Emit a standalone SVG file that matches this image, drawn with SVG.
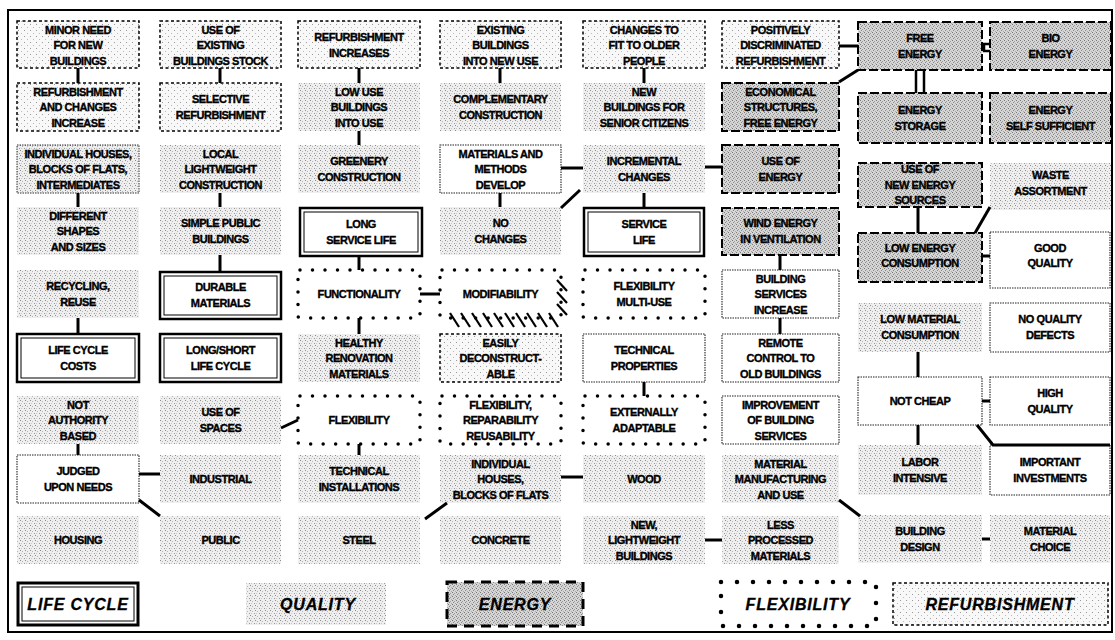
<svg xmlns="http://www.w3.org/2000/svg" width="1115" height="640" viewBox="0 0 1115 640">
<defs>
<pattern id="pq" width="5" height="5" patternUnits="userSpaceOnUse"><rect width="5" height="5" fill="#efefef"/><rect x="0" y="0" width="1" height="1" fill="#8a8a8a"/><rect x="2" y="1" width="1" height="1" fill="#b5b5b5"/><rect x="4" y="3" width="1" height="1" fill="#9a9a9a"/><rect x="1" y="3" width="1" height="1" fill="#c8c8c8"/></pattern>
<pattern id="pe" width="4" height="4" patternUnits="userSpaceOnUse"><rect width="4" height="4" fill="#d6d6d6"/><rect x="0" y="0" width="1" height="1" fill="#777"/><rect x="2" y="1" width="1" height="1" fill="#999"/><rect x="1" y="2" width="1" height="1" fill="#888"/><rect x="3" y="3" width="1" height="1" fill="#aaa"/></pattern>
<pattern id="pr" width="6" height="6" patternUnits="userSpaceOnUse"><rect width="6" height="6" fill="#f8f8f8"/><rect x="0" y="0" width="1" height="1" fill="#999"/><rect x="3" y="3" width="1" height="1" fill="#bbb"/></pattern>
</defs>
<style>
.t{font-family:"Liberation Sans",Arial,sans-serif;font-weight:bold;font-size:11px;letter-spacing:-0.45px;text-anchor:middle;fill:#000;stroke:#000;stroke-width:0.35px}
.lg{font-family:"Liberation Sans",Arial,sans-serif;font-weight:bold;font-style:italic;font-size:16px;letter-spacing:0.8px;text-anchor:middle;fill:#000;stroke:#000;stroke-width:0.3px}
.q{fill:url(#pq)}
.qb{fill:url(#pq);stroke:#333;stroke-width:1;stroke-dasharray:1.5 1}
.rf{fill:url(#pr);stroke:#000;stroke-width:1.5;stroke-dasharray:3 2.5}
.en{fill:url(#pe);stroke:#000;stroke-width:2;stroke-dasharray:9 3}
.lo{fill:#fff;stroke:#000;stroke-width:2.5}
.li{fill:none;stroke:#000;stroke-width:1}
.fx{fill:#fff;stroke:#000;stroke-width:3.5;stroke-dasharray:0 12.5;stroke-linecap:round}
.nt{fill:#fff;stroke:#222;stroke-width:1.1;stroke-dasharray:1.5 1}
.c{stroke:#000;stroke-width:3;fill:none}
.h{stroke:#000;stroke-width:2.2}
</style>
<rect x="8" y="10" width="1104" height="622" fill="#fff" stroke="#000" stroke-width="2"/>

<!-- Column 1 -->
<g id="n-minor-need"><rect class="rf" x="17" y="21" width="122" height="47"/><text class="t"><tspan x="78" y="33.5">MINOR NEED</tspan><tspan x="78" y="49">FOR NEW</tspan><tspan x="78" y="64.5">BUILDINGS</tspan></text></g>
<g id="n-refurb-changes"><rect class="rf" x="17" y="83" width="122" height="48"/><text class="t"><tspan x="78" y="95.5">REFURBISHMENT</tspan><tspan x="78" y="111">AND CHANGES</tspan><tspan x="78" y="126.5">INCREASE</tspan></text></g>
<g id="n-individual-houses"><rect class="qb" x="17" y="145" width="122" height="48"/><text class="t"><tspan x="78" y="157.5">INDIVIDUAL HOUSES,</tspan><tspan x="78" y="173">BLOCKS OF FLATS,</tspan><tspan x="78" y="188.5">INTERMEDIATES</tspan></text></g>
<g id="n-different-shapes"><rect class="q" x="17" y="207" width="122" height="48"/><text class="t"><tspan x="78" y="219.5">DIFFERENT</tspan><tspan x="78" y="235">SHAPES</tspan><tspan x="78" y="250.5">AND SIZES</tspan></text></g>
<g id="n-recycling"><rect class="q" x="17" y="270" width="122" height="48"/><text class="t"><tspan x="78" y="290">RECYCLING,</tspan><tspan x="78" y="306">REUSE</tspan></text></g>
<g id="n-life-cycle-costs"><rect class="lo" x="17" y="334" width="122" height="48"/><rect class="li" x="21" y="338" width="114" height="40"/><text class="t"><tspan x="78" y="354">LIFE CYCLE</tspan><tspan x="78" y="370">COSTS</tspan></text></g>
<g id="n-not-authority"><rect class="q" x="17" y="396" width="122" height="48"/><text class="t"><tspan x="78" y="408.5">NOT</tspan><tspan x="78" y="424">AUTHORITY</tspan><tspan x="78" y="439.5">BASED</tspan></text></g>
<g id="n-judged"><rect class="nt" x="17" y="455" width="122" height="48"/><text class="t"><tspan x="78" y="475">JUDGED</tspan><tspan x="78" y="491">UPON NEEDS</tspan></text></g>
<g id="n-housing"><rect class="q" x="17" y="516" width="122" height="48"/><text class="t"><tspan x="78" y="544">HOUSING</tspan></text></g>

<!-- Column 2 -->
<g id="n-use-existing"><rect class="rf" x="160" y="21" width="121" height="47"/><text class="t"><tspan x="220.5" y="33.5">USE OF</tspan><tspan x="220.5" y="49">EXISTING</tspan><tspan x="220.5" y="64.5">BUILDINGS STOCK</tspan></text></g>
<g id="n-selective-refurb"><rect class="rf" x="160" y="83" width="121" height="48"/><text class="t"><tspan x="220.5" y="103">SELECTIVE</tspan><tspan x="220.5" y="119">REFURBISHMENT</tspan></text></g>
<g id="n-local-lightweight"><rect class="q" x="160" y="145" width="121" height="48"/><text class="t"><tspan x="220.5" y="157.5">LOCAL</tspan><tspan x="220.5" y="173">LIGHTWEIGHT</tspan><tspan x="220.5" y="188.5">CONSTRUCTION</tspan></text></g>
<g id="n-simple-public"><rect class="q" x="160" y="207" width="121" height="48"/><text class="t"><tspan x="220.5" y="227">SIMPLE PUBLIC</tspan><tspan x="220.5" y="243">BUILDINGS</tspan></text></g>
<g id="n-durable"><rect class="lo" x="160" y="272" width="121" height="47"/><rect class="li" x="164" y="276" width="113" height="39"/><text class="t"><tspan x="220.5" y="291">DURABLE</tspan><tspan x="220.5" y="307">MATERIALS</tspan></text></g>
<g id="n-long-short"><rect class="lo" x="160" y="334" width="121" height="48"/><rect class="li" x="164" y="338" width="113" height="40"/><text class="t"><tspan x="220.5" y="354">LONG/SHORT</tspan><tspan x="220.5" y="370">LIFE CYCLE</tspan></text></g>
<g id="n-use-spaces"><rect class="q" x="160" y="396" width="121" height="48"/><text class="t"><tspan x="220.5" y="416">USE OF</tspan><tspan x="220.5" y="432">SPACES</tspan></text></g>
<g id="n-industrial"><rect class="q" x="160" y="455" width="121" height="48"/><text class="t"><tspan x="220.5" y="483">INDUSTRIAL</tspan></text></g>
<g id="n-public"><rect class="q" x="160" y="516" width="121" height="48"/><text class="t"><tspan x="220.5" y="544">PUBLIC</tspan></text></g>

<!-- Column 3 -->
<g id="n-refurb-increases"><rect class="rf" x="298" y="21" width="122" height="47"/><text class="t"><tspan x="359" y="41">REFURBISHMENT</tspan><tspan x="359" y="57">INCREASES</tspan></text></g>
<g id="n-low-use"><rect class="q" x="298" y="83" width="122" height="48"/><text class="t"><tspan x="359" y="95.5">LOW USE</tspan><tspan x="359" y="111">BUILDINGS</tspan><tspan x="359" y="126.5">INTO USE</tspan></text></g>
<g id="n-greenery"><rect class="q" x="298" y="145" width="122" height="48"/><text class="t"><tspan x="359" y="165">GREENERY</tspan><tspan x="359" y="181">CONSTRUCTION</tspan></text></g>
<g id="n-long-service"><rect class="lo" x="300" y="208" width="122" height="48"/><rect class="li" x="304" y="212" width="114" height="40"/><text class="t"><tspan x="361" y="228">LONG</tspan><tspan x="361" y="244">SERVICE LIFE</tspan></text></g>
<g id="n-functionality"><rect class="fx" x="298" y="270" width="122" height="48" rx="2"/><text class="t"><tspan x="359" y="298">FUNCTIONALITY</tspan></text></g>
<g id="n-healthy"><rect class="q" x="298" y="334" width="122" height="48"/><text class="t"><tspan x="359" y="346.5">HEALTHY</tspan><tspan x="359" y="362">RENOVATION</tspan><tspan x="359" y="377.5">MATERIALS</tspan></text></g>
<g id="n-flexibility"><rect class="fx" x="298" y="396" width="122" height="48" rx="2"/><text class="t"><tspan x="359" y="424">FLEXIBILITY</tspan></text></g>
<g id="n-tech-install"><rect class="q" x="298" y="455" width="122" height="48"/><text class="t"><tspan x="359" y="475">TECHNICAL</tspan><tspan x="359" y="491">INSTALLATIONS</tspan></text></g>
<g id="n-steel"><rect class="q" x="298" y="516" width="122" height="48"/><text class="t"><tspan x="359" y="544">STEEL</tspan></text></g>

<!-- Column 4 -->
<g id="n-existing-new-use"><rect class="rf" x="440" y="21" width="121" height="47"/><text class="t"><tspan x="500.5" y="33.5">EXISTING</tspan><tspan x="500.5" y="49">BUILDINGS</tspan><tspan x="500.5" y="64.5">INTO NEW USE</tspan></text></g>
<g id="n-complementary"><rect class="q" x="440" y="83" width="121" height="48"/><text class="t"><tspan x="500.5" y="103">COMPLEMENTARY</tspan><tspan x="500.5" y="119">CONSTRUCTION</tspan></text></g>
<g id="n-materials-methods"><rect class="nt" x="440" y="145" width="121" height="48"/><text class="t"><tspan x="500.5" y="157.5">MATERIALS AND</tspan><tspan x="500.5" y="173">METHODS</tspan><tspan x="500.5" y="188.5">DEVELOP</tspan></text></g>
<g id="n-no-changes"><rect class="q" x="440" y="207" width="121" height="48"/><text class="t"><tspan x="500.5" y="227">NO</tspan><tspan x="500.5" y="243">CHANGES</tspan></text></g>
<g id="n-modifiability"><rect class="fx" x="440" y="270" width="121" height="48" rx="2"/><text class="t"><tspan x="500.5" y="298">MODIFIABILITY</tspan></text>
<g class="h"><line x1="450" y1="313" x2="459" y2="327"/><line x1="461" y1="313" x2="470" y2="327"/><line x1="472" y1="313" x2="481" y2="327"/><line x1="483" y1="313" x2="492" y2="327"/><line x1="494" y1="313" x2="503" y2="327"/><line x1="505" y1="313" x2="514" y2="327"/><line x1="516" y1="313" x2="525" y2="327"/><line x1="527" y1="313" x2="536" y2="327"/><line x1="538" y1="313" x2="547" y2="327"/><line x1="549" y1="313" x2="558" y2="327"/><line x1="557" y1="280" x2="567" y2="291"/><line x1="557" y1="292" x2="567" y2="303"/><line x1="557" y1="304" x2="567" y2="315"/></g></g>
<g id="n-easily"><rect class="rf" x="440" y="334" width="121" height="48"/><text class="t"><tspan x="500.5" y="346.5">EASILY</tspan><tspan x="500.5" y="362">DECONSTRUCT-</tspan><tspan x="500.5" y="377.5">ABLE</tspan></text></g>
<g id="n-flex-repar"><rect class="fx" x="440" y="396" width="121" height="48" rx="2"/><text class="t"><tspan x="500.5" y="408.5">FLEXIBILITY,</tspan><tspan x="500.5" y="424">REPARABILITY</tspan><tspan x="500.5" y="439.5">REUSABILITY</tspan></text></g>
<g id="n-individual-blocks"><rect class="q" x="440" y="455" width="121" height="48"/><text class="t"><tspan x="500.5" y="467.5">INDIVIDUAL</tspan><tspan x="500.5" y="483">HOUSES,</tspan><tspan x="500.5" y="498.5">BLOCKS OF FLATS</tspan></text></g>
<g id="n-concrete"><rect class="q" x="440" y="516" width="121" height="48"/><text class="t"><tspan x="500.5" y="544">CONCRETE</tspan></text></g>

<!-- Column 5 -->
<g id="n-changes-older"><rect class="rf" x="583" y="21" width="122" height="47"/><text class="t"><tspan x="644" y="33.5">CHANGES TO</tspan><tspan x="644" y="49">FIT TO OLDER</tspan><tspan x="644" y="64.5">PEOPLE</tspan></text></g>
<g id="n-senior"><rect class="q" x="583" y="83" width="122" height="48"/><text class="t"><tspan x="644" y="95.5">NEW</tspan><tspan x="644" y="111">BUILDINGS FOR</tspan><tspan x="644" y="126.5">SENIOR CITIZENS</tspan></text></g>
<g id="n-incremental"><rect class="q" x="583" y="145" width="122" height="48"/><text class="t"><tspan x="644" y="165">INCREMENTAL</tspan><tspan x="644" y="181">CHANGES</tspan></text></g>
<g id="n-service-life"><rect class="lo" x="584" y="208" width="120" height="48"/><rect class="li" x="588" y="212" width="112" height="40"/><text class="t"><tspan x="644" y="228">SERVICE</tspan><tspan x="644" y="244">LIFE</tspan></text></g>
<g id="n-flex-multi"><rect class="fx" x="583" y="270" width="122" height="48" rx="2"/><text class="t"><tspan x="644" y="290">FLEXIBILITY</tspan><tspan x="644" y="306">MULTI-USE</tspan></text></g>
<g id="n-tech-props"><rect class="nt" x="583" y="334" width="122" height="48"/><text class="t"><tspan x="644" y="354">TECHNICAL</tspan><tspan x="644" y="370">PROPERTIES</tspan></text></g>
<g id="n-externally"><rect class="fx" x="583" y="396" width="122" height="48" rx="2"/><text class="t"><tspan x="644" y="416">EXTERNALLY</tspan><tspan x="644" y="432">ADAPTABLE</tspan></text></g>
<g id="n-wood"><rect class="q" x="583" y="455" width="122" height="48"/><text class="t"><tspan x="644" y="483">WOOD</tspan></text></g>
<g id="n-new-lightweight"><rect class="q" x="583" y="516" width="122" height="48"/><text class="t"><tspan x="644" y="528.5">NEW,</tspan><tspan x="644" y="544">LIGHTWEIGHT</tspan><tspan x="644" y="559.5">BUILDINGS</tspan></text></g>

<!-- Column 6 -->
<g id="n-positively"><rect class="rf" x="722" y="21" width="117" height="47"/><text class="t"><tspan x="780.5" y="33.5">POSITIVELY</tspan><tspan x="780.5" y="49">DISCRIMINATED</tspan><tspan x="780.5" y="64.5">REFURBISHMENT</tspan></text></g>
<g id="n-economical"><rect class="en" x="722" y="83" width="117" height="48"/><text class="t"><tspan x="780.5" y="95.5">ECONOMICAL</tspan><tspan x="780.5" y="111">STRUCTURES,</tspan><tspan x="780.5" y="126.5">FREE ENERGY</tspan></text></g>
<g id="n-use-energy"><rect class="en" x="722" y="145" width="117" height="48"/><text class="t"><tspan x="780.5" y="165">USE OF</tspan><tspan x="780.5" y="181">ENERGY</tspan></text></g>
<g id="n-wind"><rect class="en" x="722" y="208" width="117" height="47"/><text class="t"><tspan x="780.5" y="227">WIND ENERGY</tspan><tspan x="780.5" y="243">IN VENTILATION</tspan></text></g>
<g id="n-building-services"><rect class="nt" x="722" y="270" width="117" height="48"/><text class="t"><tspan x="780.5" y="282.5">BUILDING</tspan><tspan x="780.5" y="298">SERVICES</tspan><tspan x="780.5" y="313.5">INCREASE</tspan></text></g>
<g id="n-remote"><rect class="nt" x="722" y="334" width="117" height="48"/><text class="t"><tspan x="780.5" y="346.5">REMOTE</tspan><tspan x="780.5" y="362">CONTROL TO</tspan><tspan x="780.5" y="377.5">OLD BUILDINGS</tspan></text></g>
<g id="n-improvement"><rect class="nt" x="722" y="396" width="117" height="48"/><text class="t"><tspan x="780.5" y="408.5">IMPROVEMENT</tspan><tspan x="780.5" y="424">OF BUILDING</tspan><tspan x="780.5" y="439.5">SERVICES</tspan></text></g>
<g id="n-material-manuf"><rect class="q" x="722" y="455" width="117" height="48"/><text class="t"><tspan x="780.5" y="467.5">MATERIAL</tspan><tspan x="780.5" y="483">MANUFACTURING</tspan><tspan x="780.5" y="498.5">AND USE</tspan></text></g>
<g id="n-less-processed"><rect class="q" x="722" y="516" width="117" height="48"/><text class="t"><tspan x="780.5" y="528.5">LESS</tspan><tspan x="780.5" y="544">PROCESSED</tspan><tspan x="780.5" y="559.5">MATERIALS</tspan></text></g>

<!-- Column 7 -->
<g id="n-free-energy"><rect class="en" x="858" y="22" width="124" height="48"/><text class="t"><tspan x="920" y="42">FREE</tspan><tspan x="920" y="58">ENERGY</tspan></text></g>
<g id="n-energy-storage"><rect class="en" x="858" y="93" width="124" height="50"/><text class="t"><tspan x="920" y="114">ENERGY</tspan><tspan x="920" y="130">STORAGE</tspan></text></g>
<g id="n-new-energy-sources"><rect class="en" x="858" y="163" width="124" height="44"/><text class="t"><tspan x="920" y="173">USE OF</tspan><tspan x="920" y="188.5">NEW ENERGY</tspan><tspan x="920" y="204">SOURCES</tspan></text></g>
<g id="n-low-energy"><rect class="en" x="858" y="233" width="124" height="49"/><text class="t"><tspan x="920" y="252">LOW ENERGY</tspan><tspan x="920" y="267">CONSUMPTION</tspan></text></g>
<g id="n-low-material"><rect class="q" x="858" y="303" width="124" height="49"/><text class="t"><tspan x="920" y="323">LOW MATERIAL</tspan><tspan x="920" y="339">CONSUMPTION</tspan></text></g>
<g id="n-not-cheap"><rect class="nt" x="858" y="377" width="124" height="48"/><text class="t"><tspan x="920" y="405">NOT CHEAP</tspan></text></g>
<g id="n-labor"><rect class="q" x="858" y="445" width="124" height="50"/><text class="t"><tspan x="920" y="466">LABOR</tspan><tspan x="920" y="482">INTENSIVE</tspan></text></g>
<g id="n-building-design"><rect class="q" x="858" y="515" width="124" height="48"/><text class="t"><tspan x="920" y="535">BUILDING</tspan><tspan x="920" y="551">DESIGN</tspan></text></g>

<!-- Column 8 -->
<g id="n-bio-energy"><rect class="en" x="990" y="22" width="121" height="48"/><text class="t"><tspan x="1050.5" y="42">BIO</tspan><tspan x="1050.5" y="58">ENERGY</tspan></text></g>
<g id="n-self-sufficient"><rect class="en" x="990" y="93" width="121" height="50"/><text class="t"><tspan x="1050.5" y="114">ENERGY</tspan><tspan x="1050.5" y="130">SELF SUFFICIENT</tspan></text></g>
<g id="n-waste"><rect class="q" x="990" y="163" width="121" height="47"/><text class="t"><tspan x="1050.5" y="179">WASTE</tspan><tspan x="1050.5" y="195">ASSORTMENT</tspan></text></g>
<g id="n-good-quality"><rect class="nt" x="990" y="232" width="120" height="56"/><text class="t"><tspan x="1050" y="252">GOOD</tspan><tspan x="1050" y="267">QUALITY</tspan></text></g>
<g id="n-no-defects"><rect class="nt" x="990" y="303" width="120" height="49"/><text class="t"><tspan x="1050" y="323">NO QUALITY</tspan><tspan x="1050" y="339">DEFECTS</tspan></text></g>
<g id="n-high-quality"><rect class="nt" x="990" y="377" width="120" height="48"/><text class="t"><tspan x="1050" y="397">HIGH</tspan><tspan x="1050" y="413">QUALITY</tspan></text></g>
<g id="n-important"><rect class="nt" x="990" y="445" width="120" height="50"/><text class="t"><tspan x="1050" y="466">IMPORTANT</tspan><tspan x="1050" y="482">INVESTMENTS</tspan></text></g>
<g id="n-material-choice"><rect class="q" x="990" y="515" width="120" height="48"/><text class="t"><tspan x="1050" y="535">MATERIAL</tspan><tspan x="1050" y="551">CHOICE</tspan></text></g>

<!-- Connectors -->
<g id="connectors" class="c">
<path d="M78,68V83"/>
<path d="M78,193V207"/>
<path d="M78,318V334"/>
<path d="M78,444V455"/>
<path d="M139,474H160"/>
<path d="M139,500L160,516"/>
<path d="M220,68V83"/>
<path d="M220,193V207"/>
<path d="M220,255V272"/>
<path d="M281,428L298,420"/>
<path d="M359,68V83"/>
<path d="M359,131V145"/>
<path d="M359,256V270"/>
<path d="M359,318V334"/>
<path d="M359,444V455"/>
<path d="M420,294H440"/>
<path d="M500,68V83"/>
<path d="M500,193V207"/>
<path d="M561,168H583"/>
<path d="M580,190L561,208"/>
<path d="M561,477H583"/>
<path d="M447,503L425,519"/>
<path d="M644,68V83"/>
<path d="M644,193V208"/>
<path d="M644,382V396"/>
<path d="M705,167H722"/>
<path d="M780,255V270"/>
<path d="M780,318V334"/>
<path d="M839,46H858"/>
<path d="M839,82L858,70"/>
<path d="M839,500L860,516"/>
<path d="M705,540H722"/>
<path d="M916,70V93M924,70V93" stroke-width="2.5"/>
<path d="M990,44H984V51H990" stroke-width="2.5"/>
<path d="M918,207V233"/>
<path d="M975,233L990,207"/>
<path d="M982,256H990"/>
<path d="M918,352V377"/>
<path d="M982,401H990"/>
<path d="M977,425L993,445H1110"/>
<path d="M918,425V445"/>
<path d="M982,539H990"/>
</g>

<!-- Legend -->
<g id="legend-life-cycle"><rect x="18" y="583" width="120" height="42" fill="#fff" stroke="#000" stroke-width="3"/><rect class="li" x="22" y="587" width="112" height="34"/><text class="lg" x="78" y="610">LIFE CYCLE</text></g>
<g id="legend-quality"><rect class="q" x="246" y="583" width="140" height="42"/><text class="lg" x="318" y="610">QUALITY</text></g>
<g id="legend-energy"><rect x="447" y="582" width="136" height="44" fill="url(#pe)" stroke="#000" stroke-width="3" stroke-dasharray="10 7"/><text class="lg" x="515" y="610">ENERGY</text></g>
<g id="legend-flexibility"><rect x="721" y="582" width="155" height="44" fill="#fff" stroke="#000" stroke-width="4.5" stroke-dasharray="0 16" stroke-linecap="round"/><text class="lg" x="798" y="610">FLEXIBILITY</text></g>
<g id="legend-refurbishment"><rect class="rf" x="893" y="583" width="215" height="42"/><text class="lg" x="1000" y="610">REFURBISHMENT</text></g>
</svg>
